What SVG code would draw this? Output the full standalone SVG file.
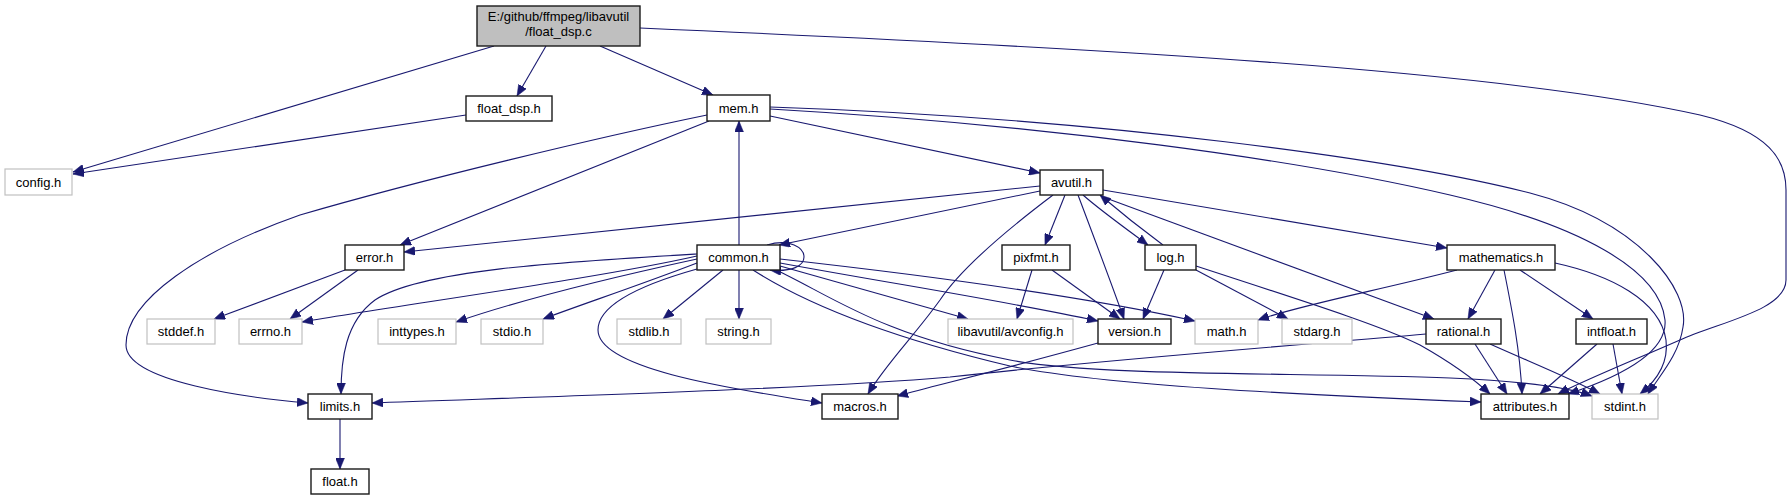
<svg xmlns="http://www.w3.org/2000/svg" width="1792" height="500" viewBox="0 0 1792 500">
<defs>
<marker id="ah" viewBox="0 0 11 9" refX="11" refY="4.5" markerWidth="11" markerHeight="9" markerUnits="userSpaceOnUse" orient="auto">
<path d="M0,0 L11,4.5 L0,9 z" fill="#191970" stroke="#191970" stroke-width="0.5"/>
</marker>
<style>
.e path{fill:none;stroke:#191970;stroke-width:1.1;marker-end:url(#ah)}
.n rect{fill:#ffffff;stroke:#1a1a1a;stroke-width:1.4}
.g rect{fill:#ffffff;stroke:#c0c0c0;stroke-width:1.2}
.m rect{fill:#bfbfbf;stroke:#1a1a1a;stroke-width:1.4}
text{font-family:"Liberation Sans",Arial,sans-serif;font-size:13px;text-anchor:middle;fill:#000}
</style>
</defs>
<rect x="0" y="0" width="1792" height="500" fill="#ffffff"/>
<g id="edges" class="e">
<path d="M494,46 L73,172"/>
<path d="M546,46 L517,96"/>
<path d="M600,46 L713,95"/>
<path d="M640,28 C1100,48 1500,70 1700,115 C1770,132 1786,160 1786,190 L1786,280 C1786,310 1720,322 1680,340 C1625,364 1585,380 1558,394"/>
<path d="M466,115 L73,174"/>
<path d="M709,121 L400,245"/>
<path d="M707,115 C600,137 420,180 300,215 C200,250 126,300 126,345 C126,382 250,398 308,403"/>
<path d="M770,116 L1040,173"/>
<path d="M770,109 C1050,125 1300,160 1450,195 C1580,225 1660,270 1665,320 C1668,355 1610,380 1568,394"/>
<path d="M770,107 C1100,118 1400,160 1530,193 C1640,222 1690,290 1683,327 C1679,355 1660,375 1648,394"/>
<path d="M1040,191 L779,245"/>
<path d="M1040,186 L404,252"/>
<path d="M1053,195 C1000,235 960,270 940,300 C915,335 885,365 868,394"/>
<path d="M1065,195 L1045,245"/>
<path d="M1078,195 C1095,240 1112,285 1124,319"/>
<path d="M1083,195 C1100,210 1125,228 1148,245"/>
<path d="M1163,245 C1140,228 1120,212 1100,195"/>
<path d="M1103,190 L1447,248"/>
<path d="M1103,197 L1434,319"/>
<path d="M1164,270 L1143,319"/>
<path d="M1196,270 L1288,319"/>
<path d="M1196,266 C1300,300 1380,325 1420,345 C1450,362 1475,380 1490,394"/>
<path d="M1032,270 L1017,319"/>
<path d="M1052,270 L1120,319"/>
<path d="M1098,343 C1000,370 950,382 897,396"/>
<path d="M739,245 L739,121"/>
<path d="M767,245 C790,238 804,248 804,257 C804,266 792,272 770,270"/>
<path d="M723,270 L663,319"/>
<path d="M739,270 L739,319"/>
<path d="M780,266 L968,319"/>
<path d="M780,263 C900,285 1000,300 1098,321"/>
<path d="M780,259 C950,278 1100,300 1195,321"/>
<path d="M776,270 C830,295 880,335 1010,360 C1100,377 1300,372 1450,378 C1520,381 1570,388 1592,396"/>
<path d="M753,270 C800,300 880,335 1010,366 C1100,385 1300,395 1481,402"/>
<path d="M697,269 C640,285 598,305 598,330 C598,370 740,390 822,403"/>
<path d="M697,256 C600,278 400,305 302,322"/>
<path d="M697,259 C600,280 520,300 456,322"/>
<path d="M697,263 C640,285 580,305 543,319"/>
<path d="M697,254 C560,262 420,270 375,300 C345,322 341,360 341,394"/>
<path d="M345,270 L214,319"/>
<path d="M358,270 L290,319"/>
<path d="M1457,270 C1380,290 1300,305 1258,320"/>
<path d="M1495,270 L1468,319"/>
<path d="M1520,270 L1593,319"/>
<path d="M1504,270 C1512,310 1520,350 1522,394"/>
<path d="M1555,263 C1610,275 1660,300 1666,340 C1669,365 1655,382 1640,394"/>
<path d="M1426,334 C1300,345 1100,360 950,377 C800,390 500,398 372,403"/>
<path d="M1475,344 L1507,394"/>
<path d="M1490,344 C1530,362 1570,378 1600,394"/>
<path d="M1597,344 L1540,394"/>
<path d="M1613,344 L1622,394"/>
<path d="M340,419 L340,469"/>
</g>
<g id="node-main" class="m"><rect x="477" y="6" width="163" height="40"/><text x="558.5" y="21">E:/github/ffmpeg/libavutil</text><text x="558.5" y="36">/float_dsp.c</text></g>
<g id="node-float_dsp_h" class="n"><rect x="466" y="96" width="86" height="25"/><text x="509" y="113">float_dsp.h</text></g>
<g id="node-config_h" class="g"><rect x="5" y="169" width="67" height="26"/><text x="38.5" y="187">config.h</text></g>
<g id="node-mem_h" class="n"><rect x="707" y="95" width="63" height="26"/><text x="738.5" y="113">mem.h</text></g>
<g id="node-avutil_h" class="n"><rect x="1040" y="170" width="63" height="25"/><text x="1071.5" y="187">avutil.h</text></g>
<g id="node-error_h" class="n"><rect x="345" y="245" width="59" height="25"/><text x="374.5" y="262">error.h</text></g>
<g id="node-common_h" class="n"><rect x="697" y="245" width="83" height="25"/><text x="738.5" y="262">common.h</text></g>
<g id="node-pixfmt_h" class="n"><rect x="1002" y="245" width="68" height="25"/><text x="1036" y="262">pixfmt.h</text></g>
<g id="node-log_h" class="n"><rect x="1145" y="245" width="51" height="25"/><text x="1170.5" y="262">log.h</text></g>
<g id="node-mathematics_h" class="n"><rect x="1447" y="245" width="108" height="25"/><text x="1501" y="262">mathematics.h</text></g>
<g id="node-stddef_h" class="g"><rect x="147" y="319" width="68" height="25"/><text x="181" y="336">stddef.h</text></g>
<g id="node-errno_h" class="g"><rect x="239" y="319" width="63" height="25"/><text x="270.5" y="336">errno.h</text></g>
<g id="node-inttypes_h" class="g"><rect x="378" y="319" width="78" height="25"/><text x="417" y="336">inttypes.h</text></g>
<g id="node-stdio_h" class="g"><rect x="481" y="319" width="62" height="25"/><text x="512" y="336">stdio.h</text></g>
<g id="node-stdlib_h" class="g"><rect x="617" y="319" width="64" height="25"/><text x="649" y="336">stdlib.h</text></g>
<g id="node-string_h" class="g"><rect x="706" y="319" width="65" height="25"/><text x="738.5" y="336">string.h</text></g>
<g id="node-avconfig_h" class="g"><rect x="948" y="319" width="125" height="25"/><text x="1010.5" y="336">libavutil/avconfig.h</text></g>
<g id="node-version_h" class="n"><rect x="1098" y="319" width="73" height="25"/><text x="1134.5" y="336">version.h</text></g>
<g id="node-math_h" class="g"><rect x="1195" y="319" width="63" height="25"/><text x="1226.5" y="336">math.h</text></g>
<g id="node-stdarg_h" class="g"><rect x="1282" y="319" width="70" height="25"/><text x="1317" y="336">stdarg.h</text></g>
<g id="node-rational_h" class="n"><rect x="1426" y="319" width="75" height="25"/><text x="1463.5" y="336">rational.h</text></g>
<g id="node-intfloat_h" class="n"><rect x="1576" y="319" width="71" height="25"/><text x="1611.5" y="336">intfloat.h</text></g>
<g id="node-limits_h" class="n"><rect x="308" y="394" width="64" height="25"/><text x="340" y="411">limits.h</text></g>
<g id="node-macros_h" class="n"><rect x="822" y="394" width="76" height="25"/><text x="860" y="411">macros.h</text></g>
<g id="node-attributes_h" class="n"><rect x="1481" y="394" width="88" height="25"/><text x="1525" y="411">attributes.h</text></g>
<g id="node-stdint_h" class="g"><rect x="1592" y="394" width="66" height="25"/><text x="1625" y="411">stdint.h</text></g>
<g id="node-float_h" class="n"><rect x="311" y="469" width="58" height="25"/><text x="340" y="486">float.h</text></g>
</svg>
